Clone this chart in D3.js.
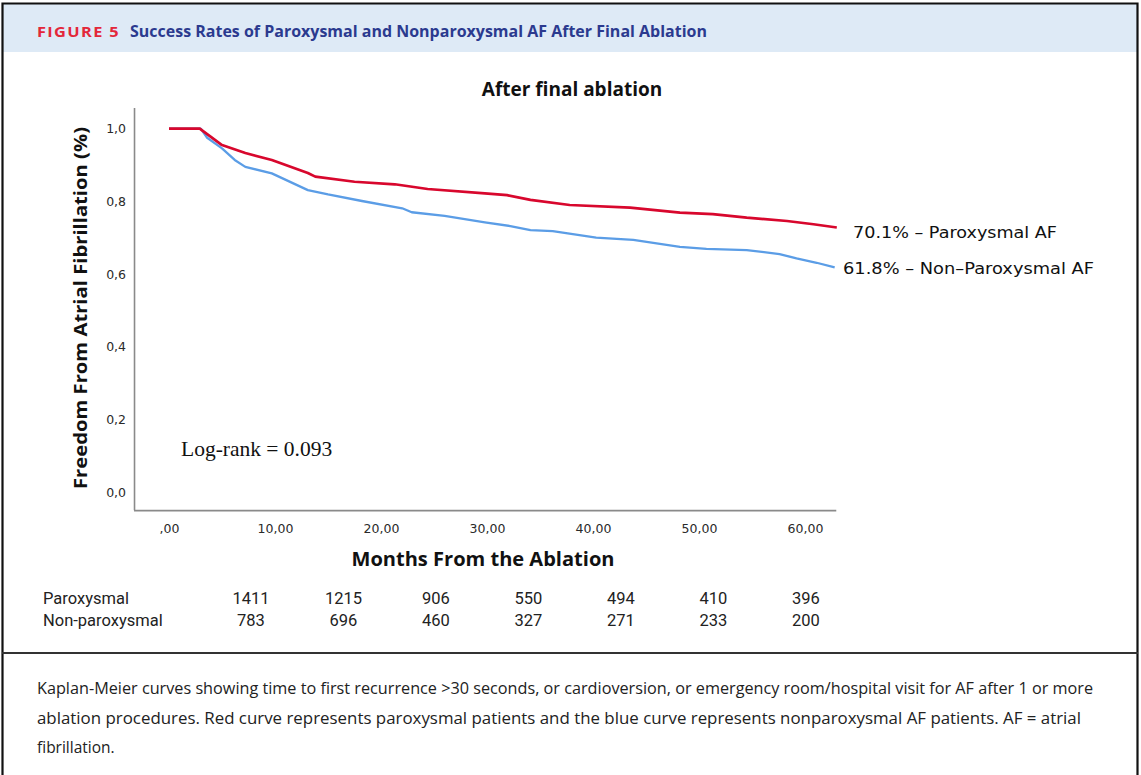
<!DOCTYPE html>
<html>
<head>
<meta charset="utf-8">
<script src="https://cdn.jsdelivr.net/npm/d3@7"></script>
<style>
  html, body { margin: 0; padding: 0; background: #fff; }
  svg { display: block; }
</style>
</head>
<body>
<script>
// Kaplan-Meier estimates, freedom from AF after final ablation
const parMonths = [0, 2.9, 3.6, 5.0, 7.2, 9.7, 13.1, 13.8, 17.5, 21.3, 24.4, 29.8, 31.9, 34.1, 37.8, 43.5, 48.2, 51.3, 54.5, 58.3, 60.8, 63.0];
const parSurv   = [1.0, 1.0, 0.985, 0.955, 0.933, 0.914, 0.878, 0.868, 0.854, 0.847, 0.834, 0.822, 0.817, 0.804, 0.790, 0.783, 0.769, 0.765, 0.755, 0.746, 0.737, 0.728];
const nonMonths = [0, 3.0, 3.6, 5.0, 6.2, 7.2, 9.7, 13.1, 15.0, 18.2, 22.0, 22.9, 26.0, 29.8, 32.2, 34.1, 36.2, 40.3, 43.8, 48.2, 50.7, 54.5, 57.6, 59.2, 61.1, 62.8];
const nonSurv   = [1.0, 1.0, 0.975, 0.946, 0.914, 0.895, 0.877, 0.831, 0.819, 0.801, 0.781, 0.770, 0.760, 0.742, 0.732, 0.721, 0.718, 0.700, 0.694, 0.675, 0.669, 0.666, 0.655, 0.643, 0.631, 0.618];

const xTicks = [0, 10, 20, 30, 40, 50, 60];
const yTicks = [0, 0.2, 0.4, 0.6, 0.8, 1.0];

// Number at risk
const riskGroups = ["Paroxysmal", "Non-paroxysmal"];
const parRisk = [1411, 1215, 906, 550, 494, 410, 396];
const nonRisk = [783, 696, 460, 327, 271, 233, 200];

const endLabels = ["70.1% \u2013 Paroxysmal AF", "61.8% \u2013 Non\u2013Paroxysmal AF"];

const W = 1141, H = 775;
const svg = d3.select("body").append("svg").attr("width", W).attr("height", H);

// ---- figure frame and header ----
svg.append("rect").attr("x", 0).attr("y", 0).attr("width", W).attr("height", H).attr("fill", "#fff");
svg.append("rect").attr("x", 3).attr("y", 4).attr("width", 1134).attr("height", 48).attr("fill", "#deeaf6");
svg.append("path")
  .attr("d", "M2.5,780 V3.5 H1137.5 V780")
  .attr("fill", "none").attr("stroke", "#111").attr("stroke-width", 2.2);
svg.append("line").attr("x1", 2).attr("x2", 1138).attr("y1", 653).attr("y2", 653)
  .attr("stroke", "#333").attr("stroke-width", 2.2);

svg.append("text").attr("x", 37).attr("y", 37)
  .attr("font-family", "'Open Sans', 'Noto Sans', sans-serif").attr("font-weight", 700)
  .attr("font-size", 14.5).attr("letter-spacing", 1.2).attr("fill", "#e3273a")
  .attr("textLength", 83).attr("lengthAdjust", "spacingAndGlyphs")
  .text("FIGURE 5");
svg.append("text").attr("x", 130).attr("y", 37)
  .attr("font-family", "'Open Sans', 'Noto Sans', sans-serif").attr("font-weight", 700)
  .attr("font-size", 15.5).attr("fill", "#2b3a8f")
  .attr("textLength", 577).attr("lengthAdjust", "spacingAndGlyphs")
  .text("Success Rates of Paroxysmal and Nonparoxysmal AF After Final Ablation");

// ---- plot ----
const x = d3.scaleLinear().domain([0, 60]).range([169, 805]);
const y = d3.scaleLinear().domain([0, 1]).range([492, 128.7]);
const xMin = -3.3, xMax = 62.95, yMin = -0.05, yMax = 1.057;

const g = svg.append("g");

// axes drawn with d3 axes, without tick marks (SPSS style)
const yAxis = d3.axisLeft(y).tickValues(yTicks).tickSize(0).tickPadding(8)
  .tickFormat(d => d3.format(".1f")(d).replace(".", ","));
const yG = g.append("g").attr("transform", `translate(${x(xMin)},0)`).call(yAxis);
yG.select(".domain").attr("d", `M0.5,${y(yMax)}V${y(yMin)}`).attr("stroke", "#8a8a8a").attr("stroke-width", 1.6);
yG.selectAll("text").attr("font-family", "'DejaVu Sans', sans-serif").attr("font-size", 12.5).attr("fill", "#2a2a2a");

const xAxis = d3.axisBottom(x).tickValues(xTicks).tickSize(0).tickPadding(14)
  .tickFormat(d => d === 0 ? ",00" : d3.format(".2f")(d).replace(".", ","));
const xG = g.append("g").attr("transform", `translate(0,${y(yMin)})`).call(xAxis);
xG.select(".domain").attr("d", `M${x(xMin)},0.5H${x(xMax)}`).attr("stroke", "#8a8a8a").attr("stroke-width", 1.6);
xG.selectAll("text").attr("font-family", "'DejaVu Sans', sans-serif").attr("font-size", 12.5).attr("fill", "#2a2a2a");

// titles
svg.append("text").attr("x", 572).attr("y", 96).attr("text-anchor", "middle")
  .attr("font-family", "'Open Sans', 'Noto Sans', sans-serif").attr("font-weight", 700).attr("font-size", 19)
  .attr("fill", "#111").text("After final ablation");
svg.append("text").attr("transform", "translate(87,308) rotate(-90)").attr("text-anchor", "middle")
  .attr("font-family", "'Open Sans', 'Noto Sans', sans-serif").attr("font-weight", 700).attr("font-size", 17.5)
  .attr("fill", "#111").attr("textLength", 362).attr("lengthAdjust", "spacingAndGlyphs")
  .text("Freedom From Atrial Fibrillation (%)");
svg.append("text").attr("x", 483).attr("y", 566).attr("text-anchor", "middle")
  .attr("font-family", "'Open Sans', 'Noto Sans', sans-serif").attr("font-weight", 700).attr("font-size", 19.5)
  .attr("fill", "#111").attr("textLength", 263).attr("lengthAdjust", "spacingAndGlyphs")
  .text("Months From the Ablation");

// curves
const line = d3.line().x(d => x(d[0])).y(d => y(d[1]));
const nonData = nonMonths.map((m, i) => [m, nonSurv[i]]);
const parData = parMonths.map((m, i) => [m, parSurv[i]]);
g.append("path").datum(nonData).attr("d", line).attr("fill", "none")
  .attr("stroke", "#5b9de6").attr("stroke-width", 2.3).attr("stroke-linejoin", "round");
g.append("path").datum(parData).attr("d", line).attr("fill", "none")
  .attr("stroke", "#d8072d").attr("stroke-width", 2.7).attr("stroke-linejoin", "round");

// end labels
svg.append("text").attr("x", 853).attr("y", 238)
  .attr("font-family", "'DejaVu Sans', sans-serif").attr("font-size", 15.5).attr("fill", "#111")
  .attr("textLength", 204).attr("lengthAdjust", "spacingAndGlyphs").text(endLabels[0]);
svg.append("text").attr("x", 843).attr("y", 274)
  .attr("font-family", "'DejaVu Sans', sans-serif").attr("font-size", 15.5).attr("fill", "#111")
  .attr("textLength", 251).attr("lengthAdjust", "spacingAndGlyphs").text(endLabels[1]);

// log-rank annotation
svg.append("text").attr("x", 181).attr("y", 456)
  .attr("font-family", "'Liberation Serif', 'Times New Roman', serif").attr("font-size", 21.5).attr("fill", "#111")
  .text("Log-rank = 0.093");

// ---- number at risk table ----
const col = d3.scalePoint().domain(d3.range(parRisk.length)).range([251, 806]);
const row = d3.scalePoint().domain(riskGroups).range([604, 626]);
const tbl = svg.append("g").attr("font-family", "Roboto, 'Liberation Sans', Arial, sans-serif").attr("font-size", 16.5).attr("fill", "#222");
riskGroups.forEach((grp, r) => {
  tbl.append("text").attr("x", 43).attr("y", row(grp)).text(grp);
  const vals = r === 0 ? parRisk : nonRisk;
  tbl.selectAll(null).data(vals).enter().append("text")
    .attr("x", (d, i) => col(i)).attr("y", row(grp)).attr("text-anchor", "middle").text(d => d);
});

// ---- caption ----
const capLines = [
  ["Kaplan-Meier curves showing time to first recurrence >30 seconds, or cardioversion, or emergency room/hospital visit for AF after 1 or more", 1056],
  ["ablation procedures. Red curve represents paroxysmal patients and the blue curve represents nonparoxysmal AF patients. AF = atrial", 1044],
  ["fibrillation.", null]
];
const cap = svg.append("g").attr("font-family", "'Open Sans', 'Noto Sans', sans-serif").attr("font-size", 15.5).attr("fill", "#222");
capLines.forEach((c, i) => {
  const t = cap.append("text").attr("x", 37).attr("y", 694 + i * 29.5).text(c[0]);
  if (c[1]) t.attr("textLength", c[1]).attr("lengthAdjust", "spacingAndGlyphs");
});
</script>
</body>
</html>
